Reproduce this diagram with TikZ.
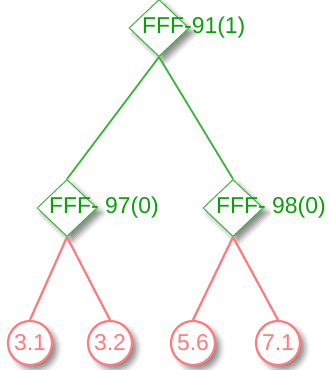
\documentclass[tikz,border=0pt]{standalone}
\usepackage{fontspec}
\setmainfont{Liberation Sans}
\usetikzlibrary{positioning,shapes.geometric,shadows.blur}

\definecolor{leafred}{RGB}{255,122,122}
\definecolor{nodegreen}{RGB}{60,180,60}
\definecolor{txtgreen}{RGB}{10,160,10}

\begin{document}
\begin{tikzpicture}[x=1bp, y=-1bp,
    font=\fontsize{23}{26}\selectfont,
    test/.style={diamond, draw=nodegreen, line width=1bp, fill=white, inner sep=0pt,
        minimum width=60bp, minimum height=57bp,
        blur shadow={shadow xshift=5bp, shadow yshift=-5bp, shadow blur radius=5bp, shadow opacity=45}},
    testlabel/.style={anchor=west, inner sep=0pt, text=txtgreen},
    leaf/.style={circle, draw=leafred, line width=2.2bp, fill=white, text=leafred, inner sep=0pt,
        minimum size=44bp,
        blur shadow={shadow xshift=5bp, shadow yshift=-5bp, shadow blur radius=5bp, shadow opacity=45}},
    greenedge/.style={draw=nodegreen, line width=1.8bp},
    rededge/.style={draw=leafred, line width=2.2bp}]
    \useasboundingbox (0,0) rectangle (329,370);

    % Beslisknopen
    \node[test] (root) at (159,28) {};
    \node[test] (left) at (67,208) {};
    \node[test] (right) at (233,208) {};

    % Bladeren
    \node[leaf] (l1) at (30,343) {3.1};
    \node[leaf] (l2) at (110,343) {3.2};
    \node[leaf] (l3) at (193,343) {5.6};
    \node[leaf] (l4) at (278,343) {7.1};

    % Takken
    \draw[greenedge] (root.south) -- (left.north);
    \draw[greenedge] (root.south) -- (right.north);
    \draw[rededge] (left.south) -- (l1.north);
    \draw[rededge] (left.south) -- (l2.north);
    \draw[rededge] (right.south) -- (l3.north);
    \draw[rededge] (right.south) -- (l4.north);

    % Teksten bij de knopen
    \node[testlabel] (troot) at ([xshift=-17bp]root.center) {FFF-91(1)};
    \node[testlabel] (tleft) at ([xshift=-18bp]left.center) {FFF- 97(0)};
    \node[testlabel] (tright) at ([xshift=-17bp]right.center) {FFF- 98(0)};
\end{tikzpicture}
\end{document}
